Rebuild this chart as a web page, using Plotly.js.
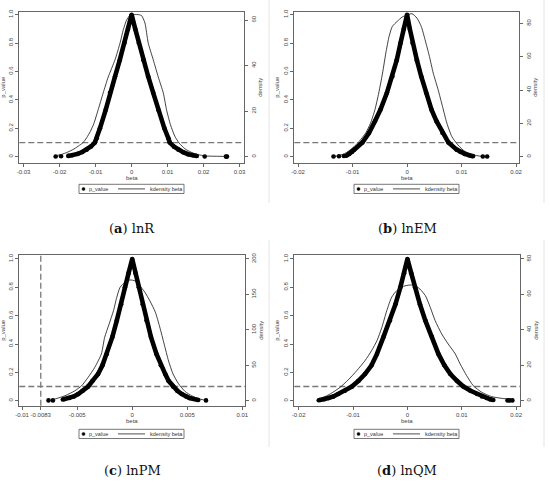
<!DOCTYPE html>
<html>
<head>
<meta charset="utf-8">
<script src="https://cdn.plot.ly/plotly-3.0.1.min.js"></script>
<style>html,body{margin:0;padding:0;background:#fff;}#chart{width:550px;height:483px;}</style>
</head>
<body>
<div id="chart"></div>
<script>
// ---------- Panel (a) lnR ----------
const pBetaA = [-0.0176,-0.0165,-0.015,-0.0137,-0.0125,-0.0113,-0.0102,-0.0097,-0.0088,-0.0072,-0.006,-0.0046,-0.0033,-0.002,-0.001,0,0.001,0.002,0.0033,0.0046,0.006,0.0074,0.0091,0.0102,0.0106,0.0118,0.013,0.0143,0.0157,0.017,0.0181];
const pValA  = [0.006,0.01,0.02,0.033,0.05,0.072,0.1,0.13,0.2,0.33,0.45,0.565,0.68,0.8,0.9,1.0,0.9,0.8,0.68,0.565,0.45,0.33,0.2,0.13,0.1,0.07,0.05,0.032,0.018,0.01,0.005];
const tailBetaA = [-0.0211,-0.0196,0.0203,0.0262,0.0265];
const tailValA  = [0.002,0.003,0.002,0.001,0.001];
const dBetaA = [-0.0211,-0.0195,-0.0178,-0.016,-0.0145,-0.0135,-0.0125,-0.0115,-0.0105,-0.0093,-0.0079,-0.0065,-0.0046,-0.0032,-0.0023,-0.0014,-0.0005,0.0005,0.0015,0.0022,0.0028,0.0037,0.0046,0.006,0.0074,0.0088,0.0097,0.0108,0.012,0.0132,0.0148,0.0165,0.018,0.0195,0.021,0.0235,0.0264];
const densA  = [0.4,1,2,3.4,5,6.2,8.3,11,14.5,20.6,28,35,42.6,50,55.8,60,62,62.4,62.4,62.3,61.9,58.7,50,42.6,35,28,20.6,14,9,6,3.5,2,1.1,0.6,0.3,0.2,0.15];

// ---------- Panel (b) lnEM ----------
const pBetaB = [-0.011,-0.0106,-0.0101,-0.0097,-0.0082,-0.007,-0.0059,-0.0049,-0.0037,-0.0027,-0.0019,-0.0012,-0.0006,0,0.0005,0.001,0.0018,0.0026,0.0035,0.0045,0.0054,0.0065,0.0076,0.0091,0.0098,0.0106,0.0114,0.0121];
const pValB  = [0.01,0.02,0.033,0.05,0.1,0.167,0.25,0.33,0.45,0.565,0.68,0.8,0.9,1.0,0.9,0.8,0.68,0.565,0.45,0.33,0.25,0.167,0.1,0.05,0.033,0.02,0.01,0.004];
const tailBetaB = [-0.0135,-0.0125,-0.0116,-0.0112,0.0139,0.0147];
const tailValB  = [0.002,0.003,0.005,0.007,0.002,0.002];
const dBetaB = [-0.0136,-0.0127,-0.0115,-0.01,-0.0088,-0.0076,-0.0067,-0.0059,-0.0052,-0.0045,-0.0039,-0.0033,-0.0027,-0.0018,-0.0009,0,0.0009,0.0018,0.0026,0.0033,0.0041,0.0048,0.0057,0.0065,0.0073,0.0082,0.0093,0.0106,0.0121,0.0133,0.0145];
const densB  = [0.2,0.6,1.8,5.2,9.2,14.2,20.2,28.2,38.2,50.2,62.2,72.2,78.2,81.2,83.8,85,85.8,83.2,78.2,70.2,60.2,50.2,40.2,30.2,20.2,12.2,7.2,3.2,1.2,0.4,0.2];

// ---------- Panel (c) lnPM ----------
const pBetaC = [-0.0063,-0.0057,-0.0053,-0.0049,-0.0045,-0.004,-0.0036,-0.0031,-0.0027,-0.0023,-0.0018,-0.0014,-0.001,-0.00066,-0.00033,0,0.0003,0.0006,0.00095,0.0013,0.0017,0.0022,0.0026,0.003,0.0033,0.0037,0.0041,0.0045,0.0049,0.0052,0.006];
const pValC  = [0.008,0.019,0.03,0.047,0.07,0.1,0.14,0.188,0.25,0.33,0.45,0.565,0.68,0.8,0.9,1.0,0.9,0.8,0.68,0.565,0.45,0.33,0.25,0.188,0.14,0.1,0.07,0.047,0.03,0.019,0.005];
const tailBetaC = [-0.0076,-0.0072,0.0067];
const tailValC  = [0.002,0.002,0.002];
const dBetaC = [-0.0076,-0.007,-0.0061,-0.0052,-0.0046,-0.004,-0.0034,-0.0028,-0.0025,-0.0021,-0.0017,-0.0014,-0.0011,-0.00066,-0.0002,0.00025,0.0007,0.00115,0.0016,0.0021,0.0025,0.0029,0.0033,0.0037,0.0042,0.0048,0.0054,0.006,0.0066];
const densC  = [0.5,2.4,7,14,21,33,47,66,89.5,108,127,146,160,167,170.4,169,162,153,141,125,104,80,56,38,24,13,7,2.8,0.8];

// ---------- Panel (d) lnQM ----------
const pBetaD = [-0.0161,-0.0153,-0.0145,-0.0136,-0.0127,-0.0115,-0.0102,-0.009,-0.0078,-0.0066,-0.0056,-0.0044,-0.0032,-0.0022,-0.0013,-0.0006,0,0.0007,0.0014,0.0023,0.0033,0.0045,0.0057,0.0068,0.0079,0.0091,0.0103,0.0116,0.0128,0.0137,0.0146,0.0152,0.0158];
const pValD  = [0.005,0.01,0.019,0.03,0.047,0.07,0.1,0.14,0.188,0.25,0.33,0.45,0.565,0.68,0.8,0.9,1.0,0.9,0.8,0.68,0.565,0.45,0.33,0.25,0.188,0.14,0.1,0.07,0.047,0.03,0.019,0.01,0.005];
const tailBetaD = [-0.0163,0.0184,0.0188,0.0193];
const tailValD  = [0.003,0.002,0.002,0.002];
const dBetaD = [-0.0161,-0.0142,-0.0124,-0.0109,-0.0093,-0.0078,-0.0066,-0.0056,-0.0047,-0.0038,-0.0029,-0.002,-0.0007,0.0005,0.0014,0.0023,0.0033,0.0042,0.0051,0.0063,0.0075,0.0088,0.0097,0.0109,0.0121,0.0137,0.0155,0.0174,0.0189,0.0195];
const densD  = [1,3.8,7.5,11.7,17,22.6,28.2,33.9,41.4,50.8,58.4,62,64.6,65.3,65,63,59.3,52.7,45.2,37.7,32,26.4,20.7,14.1,8.5,4.7,2.3,1.3,0.8,0.7];

// ---------- Ticks / labels ----------
const pTicks = [0,0.2,0.4,0.6,0.8,1.0];
const pTickText = ["0","0.2","0.4","0.6","0.8","1.0"];
const xTicksA = [-0.03,-0.02,-0.01,0,0.01,0.02,0.03];
const xTextA  = ["-0.03","-0.02","-0.01","0","0.01","0.02","0.03"];
const xTicksB = [-0.02,-0.01,0,0.01,0.02];
const xTextB  = ["-0.02","-0.01","0","0.01","0.02"];
const xTicksC = [-0.01,-0.0083,-0.005,0,0.005,0.01];
const xTextC  = ["-0.01","-0.0083","-0.005","0","0.005","0.01"];
const xTicksD = [-0.02,-0.01,0,0.01,0.02];
const xTextD  = ["-0.02","-0.01","0","0.01","0.02"];
const dTicksA = [0,20,40,60];
const dTicksB = [0,20,40,60,80];
const dTicksC = [0,50,100,150,200];
const dTicksD = [0,20,40,60,80];
const captions = ["(<b>a</b>) lnR","(<b>b</b>) lnEM","(<b>c</b>) lnPM","(<b>d</b>) lnQM"];
const legendNames = ["p_value","kdensity beta"];
const xTitle = "beta", yTitle = "p_value", y2Title = "density";
const threshold = 0.1;
const vlineC = -0.0083;

// ---------- Layout geometry (pixels) ----------
const W = 550, H = 483;
const panels = [
  {pb:pBetaA,pv:pValA,tb:tailBetaA,tv:tailValA,db:dBetaA,dv:densA,xt:xTicksA,xtt:xTextA,dt:dTicksA,
   xr:[-0.0312,0.0313],pr:[-0.042,1.021],dscale:62.35,fx:[19.3,244.3],fy:[11.7,162.7],off:[0,0],cap:[132,228]},
  {pb:pBetaB,pv:pValB,tb:tailBetaB,tv:tailValB,db:dBetaB,dv:densB,xt:xTicksB,xtt:xTextB,dt:dTicksB,
   xr:[-0.0207,0.0206],pr:[-0.042,1.021],dscale:85.2,fx:[294.3,519.3],fy:[11.7,162.7],off:[275,0],cap:[407,228]},
  {pb:pBetaC,pv:pValC,tb:tailBetaC,tv:tailValC,db:dBetaC,dv:densC,xt:xTicksC,xtt:xTextC,dt:dTicksC,
   xr:[-0.01025,0.01024],pr:[-0.0353,1.028],dscale:200,fx:[19.3,245],fy:[255,405.7],off:[0,245],cap:[132,470]},
  {pb:pBetaD,pv:pValD,tb:tailBetaD,tv:tailValD,db:dBetaD,dv:densD,xt:xTicksD,xtt:xTextD,dt:dTicksD,
   xr:[-0.0208,0.0207],pr:[-0.0353,1.028],dscale:80,fx:[294.3,520],fy:[255,405.7],off:[275,245],cap:[407,470]}
];

const FONT = 'Liberation Sans, Arial, sans-serif';
const axCol = '#666';
const txtCol = '#444';
const px = v => v / W;
const py = v => 1 - v / H;
const data = [];
const layout = {
  width: W, height: H,
  margin: {l:0,r:0,t:0,b:0},
  paper_bgcolor: '#fff', plot_bgcolor: '#fff',
  showlegend: false,
  font: {family: FONT, size: 6, color: txtCol},
  shapes: [], annotations: []
};

panels.forEach((P, i) => {
  const k = i + 1;
  const xa = 'x' + (k === 1 ? '' : k);
  const yl = 'y' + (2*k - 1 === 1 ? '' : (2*k - 1));
  const yr = 'y' + (2*k);
  const xKey = 'xaxis' + (k === 1 ? '' : k);
  const ylKey = 'yaxis' + (2*k - 1 === 1 ? '' : (2*k - 1));
  const yrKey = 'yaxis' + (2*k);
  const xd = [px(P.fx[0]), px(P.fx[1])];
  const yd = [py(P.fy[1]), py(P.fy[0])];

  data.push({x: P.pb, y: P.pv, xaxis: xa, yaxis: yl, mode: 'lines', type: 'scatter',
    line: {color: '#000', width: 4.6}, hoverinfo: 'skip'});
  data.push({x: P.pb.concat(P.tb), y: P.pv.concat(P.tv), xaxis: xa, yaxis: yl, mode: 'markers', type: 'scatter',
    marker: {color: '#000', size: 4.6}, name: legendNames[0]});
  data.push({x: P.db, y: P.dv, xaxis: xa, yaxis: yr, mode: 'lines', type: 'scatter',
    line: {color: '#111', width: 0.8, shape: 'spline', smoothing: 0.6}, name: legendNames[1]});

  const tf = {size: 6, color: txtCol, family: FONT};
  layout[xKey] = {domain: xd, anchor: yl, range: P.xr, tickmode: 'array', tickvals: P.xt, ticktext: P.xtt, tickangle: 0,
    showline: true, mirror: true, linecolor: axCol, linewidth: 1, ticks: 'outside', ticklen: 3, tickcolor: axCol,
    showgrid: false, zeroline: false, tickfont: tf};
  layout[ylKey] = {domain: yd, anchor: xa, range: P.pr, tickmode: 'array', tickvals: pTicks, ticktext: pTickText,
    showline: true, linecolor: axCol, linewidth: 1, ticks: 'outside', ticklen: 3, tickcolor: axCol, tickangle: -90,
    showgrid: false, zeroline: false, tickfont: tf,
    title: {text: yTitle, font: tf, standoff: 2}};
  layout[yrKey] = {overlaying: yl, side: 'right', anchor: xa, range: [P.pr[0]*P.dscale, P.pr[1]*P.dscale],
    tickmode: 'array', tickvals: P.dt, ticktext: P.dt.map(String),
    showline: true, linecolor: axCol, linewidth: 1, ticks: 'outside', ticklen: 3, tickcolor: axCol, tickangle: -90,
    showgrid: false, zeroline: false, tickfont: tf,
    title: {text: y2Title, font: tf, standoff: 2}};

  // x-axis title placed like Stata (just under tick labels)
  layout.annotations.push({xref: 'paper', yref: 'paper', x: (xd[0] + xd[1]) / 2, y: py(P.fy[1] + 15.5), xanchor: 'center', yanchor: 'middle',
    text: xTitle, showarrow: false, font: tf});

  layout.shapes.push({type: 'line', xref: xa + ' domain', yref: yl, x0: 0, x1: 1, y0: threshold, y1: threshold,
    line: {color: '#777', width: 1.3, dash: '6px,3px'}, layer: 'below'});
  if (k === 3) {
    layout.shapes.push({type: 'line', xref: xa, yref: yl + ' domain', x0: vlineC, x1: vlineC, y0: 0, y1: 1,
      line: {color: '#777', width: 1.3, dash: '6px,3px'}, layer: 'below'});
  }

  // compact legend box (Stata style)
  const ox = P.off[0], oy = P.off[1];
  const ly = 188.9 + oy;
  layout.shapes.push({type: 'rect', xref: 'paper', yref: 'paper', x0: px(79 + ox), x1: px(184 + ox), y0: py(184.3 + oy), y1: py(193.5 + oy),
    line: {color: '#555', width: 0.8}, fillcolor: '#fff'});
  layout.shapes.push({type: 'circle', xref: 'paper', yref: 'paper', x0: px(82 + ox), x1: px(85 + ox), y0: py(ly - 1.5), y1: py(ly + 1.5),
    line: {color: '#000', width: 0.5}, fillcolor: '#000'});
  layout.shapes.push({type: 'line', xref: 'paper', yref: 'paper', x0: px(118 + ox), x1: px(145 + ox), y0: py(ly), y1: py(ly),
    line: {color: '#222', width: 0.8}});
  layout.annotations.push({xref: 'paper', yref: 'paper', x: px(87 + ox), y: py(ly), xanchor: 'left', yanchor: 'middle',
    text: legendNames[0], showarrow: false, font: {size: 5.5, color: '#333', family: FONT}});
  layout.annotations.push({xref: 'paper', yref: 'paper', x: px(148 + ox), y: py(ly), xanchor: 'left', yanchor: 'middle',
    text: legendNames[1], showarrow: false, font: {size: 5.5, color: '#333', family: FONT}});

  layout.annotations.push({xref: 'paper', yref: 'paper', x: px(P.cap[0]), y: py(P.cap[1]), xanchor: 'center', yanchor: 'middle',
    text: captions[i], showarrow: false, font: {family: 'DejaVu Serif, serif', size: 13, color: '#111'}});
});

// faint panel separators
[[269, 0, 203], [544, 0, 203], [269, 240, 447], [544, 240, 447]].forEach(s => {
  layout.shapes.push({type: 'line', xref: 'paper', yref: 'paper', x0: px(s[0]), x1: px(s[0]), y0: py(s[1]), y1: py(s[2]),
    line: {color: '#e4e4e4', width: 1}});
});

Plotly.newPlot('chart', data, layout, {displayModeBar: false, staticPlot: true});
</script>
</body>
</html>
